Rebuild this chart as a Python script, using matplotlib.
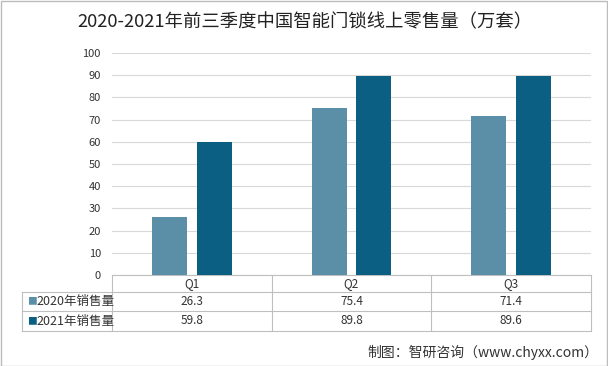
import matplotlib.pyplot as plt
import numpy as np
from matplotlib.patches import Rectangle

plt.rcParams['font.family'] = ['Noto Sans CJK SC', 'DejaVu Sans']

# data
quarters = ["Q1", "Q2", "Q3"]
series_names = ["2020年销售量", "2021年销售量"]
sales_2020 = [26.3, 75.4, 71.4]
sales_2021 = [59.8, 89.8, 89.6]
colors = ["#5b8fa7", "#0b5f82"]
yticks = list(range(0, 101, 10))

W, H = 608, 366
fig = plt.figure(figsize=(W / 100, H / 100), dpi=100)
fig.patch.set_facecolor("white")

# axes placed in pixel coords
left, right, top, bottom = 112, 591, 53, 275
ax = fig.add_axes([left / W, 1 - bottom / H, (right - left) / W, (bottom - top) / H])

x = np.arange(len(quarters)) + 0.5
bw = 0.22
off = 0.14
ax.bar(x - off, sales_2020, bw, color=colors[0], zorder=3)
ax.bar(x + off, sales_2021, bw, color=colors[1], zorder=3)

ax.set_xlim(0, 3)
ax.set_ylim(0, 100)
ax.set_yticks(yticks)
ax.set_yticklabels([str(v) for v in yticks], fontsize=8, color="#333333")
ax.tick_params(axis="y", length=0, pad=8)
ax.set_xticks([])
ax.grid(axis="y", color="#d9d9d9", lw=0.8, zorder=0)
for s in ax.spines.values():
    s.set_visible(False)

# data table under the axes
ah = bottom - top
def yf(py):
    return (bottom - py) / ah

aw = right - left
def xf(px):
    return (px - left) / aw

row_lines = [275, 292, 311, 331]
tbl_left = 22
lc = "#bfbfbf"
lkw = dict(transform=ax.transAxes, color=lc, lw=0.8, clip_on=False)
# horizontal lines
ax.plot([0, 1], [yf(row_lines[0])] * 2, **lkw)
for py in row_lines[1:]:
    ax.plot([xf(tbl_left), 1], [yf(py)] * 2, **lkw)
# vertical lines
for i in range(4):
    ax.plot([i / 3, i / 3], [yf(row_lines[0]), yf(row_lines[-1])], **lkw)
ax.plot([xf(tbl_left)] * 2, [yf(row_lines[1]), yf(row_lines[-1])], **lkw)

tkw = dict(transform=ax.transAxes, ha="center", va="center", fontsize=8.5, color="#333333")
for i, q in enumerate(quarters):
    cx = (i + 0.5) / 3
    ax.text(cx, yf((row_lines[0] + row_lines[1]) / 2), q, **tkw)
    ax.text(cx, yf((row_lines[1] + row_lines[2]) / 2), f"{sales_2020[i]:.1f}", **tkw)
    ax.text(cx, yf((row_lines[2] + row_lines[3]) / 2), f"{sales_2021[i]:.1f}", **tkw)

for j, name in enumerate(series_names):
    cy = yf((row_lines[j + 1] + row_lines[j + 2]) / 2)
    ax.text(xf(27), cy, "■", transform=ax.transAxes, ha="left", va="center",
            fontsize=7, color=colors[j])
    ax.text(xf(36), cy, name, transform=ax.transAxes, ha="left", va="center",
            fontsize=9, color="#333333")

# title and source
fig.text(305 / W, 1 - 22 / H, "2020-2021年前三季度中国智能门锁线上零售量（万套）",
         ha="center", va="center", fontsize=13.2, color="#222222")
fig.text(598 / W, 1 - 352 / H, "制图：智研咨询（www.chyxx.com）",
         ha="right", va="center", fontsize=10, color="#333333")

# border
fig.add_artist(Rectangle((0.5 / W, 0.5 / H), 1 - 1.5 / W, 1 - 1.5 / H,
                         transform=fig.transFigure, fill=False, ec="#bcbcbc", lw=1))

fig.savefig("out.png", dpi=100)
